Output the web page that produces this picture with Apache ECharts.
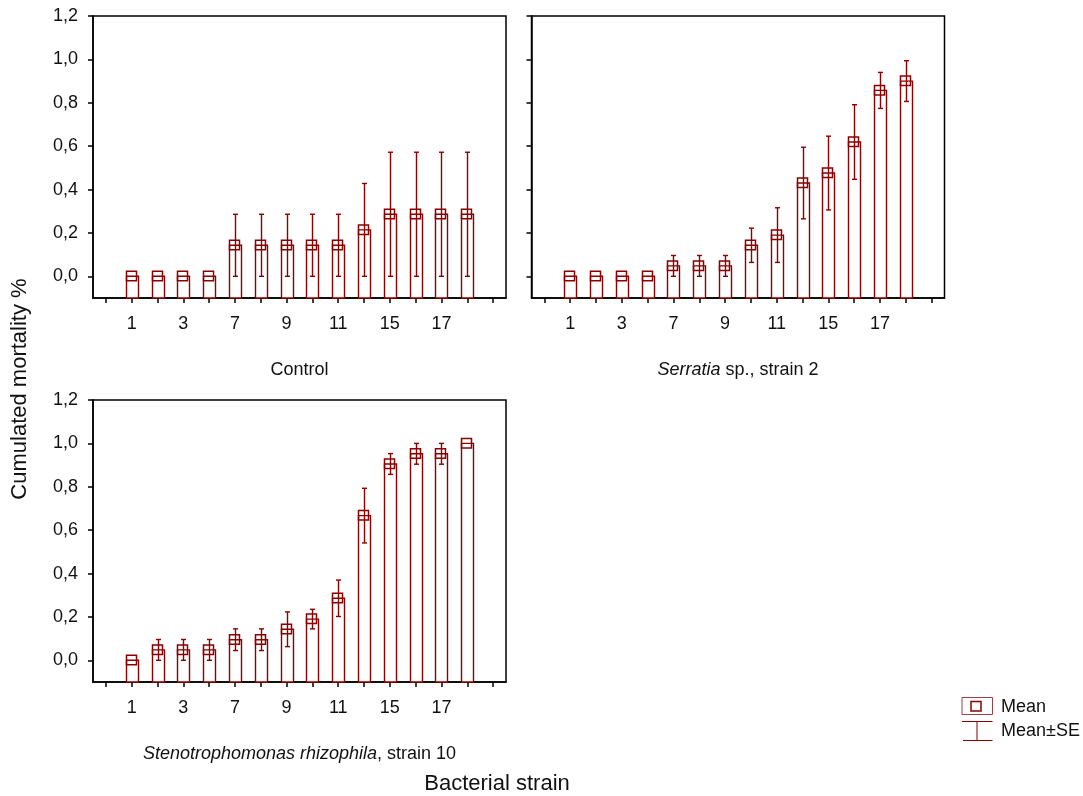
<!DOCTYPE html>
<html>
<head>
<meta charset="utf-8">
<script src="https://cdn.jsdelivr.net/npm/echarts@6/dist/echarts.min.js"></script>
<style>
html,body{margin:0;padding:0;background:#fff;}
#chart{width:1083px;height:796px;}
</style>
</head>
<body>
<div id="chart"></div>
<script>
// ---- data ----
const days = ['1','2','3','4','7','8','9','10','11','14','15','16','17','18'];
const yTicks = [0, 0.2, 0.4, 0.6, 0.8, 1.0, 1.2];

const controlMean  = [0,0,0,0,0.143,0.143,0.143,0.143,0.143,0.214,0.286,0.286,0.286,0.286];
const controlSE    = [0,0,0,0,0.143,0.143,0.143,0.143,0.143,0.214,0.286,0.286,0.286,0.286];

const serratiaMean = [0,0,0,0,0.048,0.048,0.048,0.143,0.190,0.430,0.476,0.619,0.857,0.900];
const serratiaSE   = [0,0,0,0,0.048,0.048,0.048,0.079,0.126,0.165,0.170,0.172,0.083,0.094];

const stenoMean    = [0,0.048,0.048,0.048,0.095,0.095,0.143,0.190,0.286,0.667,0.905,0.952,0.952,1.000];
const stenoSE      = [0,0.048,0.048,0.048,0.050,0.050,0.080,0.045,0.084,0.126,0.048,0.048,0.048,0];

const panelNames = [
  'Control',
  '{i|Serratia} sp., strain 2',
  '{i|Stenotrophomonas rhizophila}, strain 10'
];
const panelData = [[controlMean, controlSE],[serratiaMean, serratiaSE],[stenoMean, stenoSE]];
const showYLabels = [true, false, true];

// ---- style ----
const RED = '#8b0000';
const FONT = '"Liberation Sans", Arial, sans-serif';
const TXT = '#111';
const Y_MIN = -0.1, Y_MAX = 1.2;

const grids = [
  {left: 93, top: 16, width: 413, height: 282},
  {left: 531.5, top: 16, width: 413, height: 282},
  {left: 93, top: 400, width: 413, height: 282}
];

const axisCats = [''].concat(days).concat(['']);

function renderItem(params, api) {
  const idx = api.value(0), m = api.value(1), se = api.value(2);
  const top = api.coord([idx, m]);
  const base = api.coord([idx, Y_MIN]);
  const cx = Math.round(top[0]);
  const ty = top[1];
  const children = [];
  children.push({type:'rect', shape:{x: cx-5.5, y: ty, width: 12, height: base[1]-ty},
    style:{fill:'#fff', stroke:RED, lineWidth:1.4}});
  if (se > 0) {
    const hi = api.coord([idx, m+se])[1];
    const lo = api.coord([idx, m-se])[1];
    children.push({type:'line', shape:{x1:cx+0.5, y1:hi, x2:cx+0.5, y2:lo}, style:{stroke:RED, lineWidth:1.4}});
    children.push({type:'line', shape:{x1:cx-2, y1:hi, x2:cx+3, y2:hi}, style:{stroke:RED, lineWidth:1.4}});
    children.push({type:'line', shape:{x1:cx-2, y1:lo, x2:cx+3, y2:lo}, style:{stroke:RED, lineWidth:1.4}});
  }
  children.push({type:'rect', shape:{x: cx-5.5, y: ty-5, width: 10, height: 9.5},
    style:{fill:null, stroke:RED, lineWidth:1.5}});
  return {type:'group', children};
}

const xAxes = [], yAxes = [], series = [];
grids.forEach((g, i) => {
  xAxes.push({
    type:'category', gridIndex:i, data: axisCats, boundaryGap:true, position:'bottom',
    axisLine:{show:true, onZero:false, lineStyle:{color:'#000', width:1.5}},
    axisTick:{show:true, alignWithLabel:true, interval:0, length:5, lineStyle:{color:'#000', width:1.5}},
    axisLabel:{interval:(idx)=> idx % 2 === 1, margin:17, fontSize:18, color:TXT, fontFamily:FONT},
    splitLine:{show:false},
    name: panelNames[i], nameLocation:'middle', nameGap:63,
    nameTextStyle:{fontSize:18, color:TXT, fontFamily:FONT,
      rich:{i:{fontStyle:'italic', fontSize:18, color:TXT, fontFamily:FONT}}}
  });
  yAxes.push({
    type:'value', gridIndex:i, min:Y_MIN, max:Y_MAX,
    axisLine:{show:true, lineStyle:{color:'#000', width:1.5}},
    axisTick:{show:true, length:5, customValues:yTicks, lineStyle:{color:'#000', width:1.5}},
    axisLabel:{show:showYLabels[i], customValues:yTicks, margin:15, fontSize:18, color:TXT, fontFamily:FONT,
      formatter:(v)=> v.toFixed(1).replace('.', ',')},
    splitLine:{show:false}
  });
  const [mean, se] = panelData[i];
  series.push({
    type:'custom', xAxisIndex:i, yAxisIndex:i, renderItem,
    data: days.map((d, k) => [k+1, mean[k], se[k]]),
    clip:false, animation:false
  });
});

const chart = echarts.init(document.getElementById('chart'), null, {renderer:'canvas'});
chart.setOption({
  backgroundColor:'#fff',
  animation:false,
  grid: grids.map(g => Object.assign({show:true, borderColor:'#000', borderWidth:1.5, backgroundColor:'transparent'}, g)),
  xAxis: xAxes,
  yAxis: yAxes,
  series,
  graphic: [
    {type:'text', style:{text:'Bacterial strain', x:497, y:784, align:'center', verticalAlign:'middle',
      font:'22px ' + FONT, fill:TXT}},
    {type:'text', x:20, y:389, rotation:Math.PI/2, style:{text:'Cumulated mortality %', align:'center', verticalAlign:'middle',
      font:'22px ' + FONT, fill:TXT}},
    // legend
    {type:'rect', shape:{x:962, y:697.5, width:30.5, height:17}, style:{fill:'#fff', stroke:'#a04040', lineWidth:1}},
    {type:'rect', shape:{x:971, y:701.5, width:10, height:9.5}, style:{fill:'#fff', stroke:RED, lineWidth:1.5}},
    {type:'text', style:{text:'Mean', x:1001, y:707, verticalAlign:'middle', font:'18px ' + FONT, fill:TXT}},
    {type:'line', shape:{x1:962, y1:721.5, x2:992.5, y2:721.5}, style:{stroke:RED, lineWidth:1}},
    {type:'line', shape:{x1:977, y1:721.5, x2:977, y2:740.5}, style:{stroke:RED, lineWidth:1}},
    {type:'line', shape:{x1:963, y1:740.5, x2:992.5, y2:740.5}, style:{stroke:RED, lineWidth:1}},
    {type:'text', style:{text:'Mean±SE', x:1001, y:731, verticalAlign:'middle', font:'18px ' + FONT, fill:TXT}}
  ]
});
</script>
</body>
</html>
